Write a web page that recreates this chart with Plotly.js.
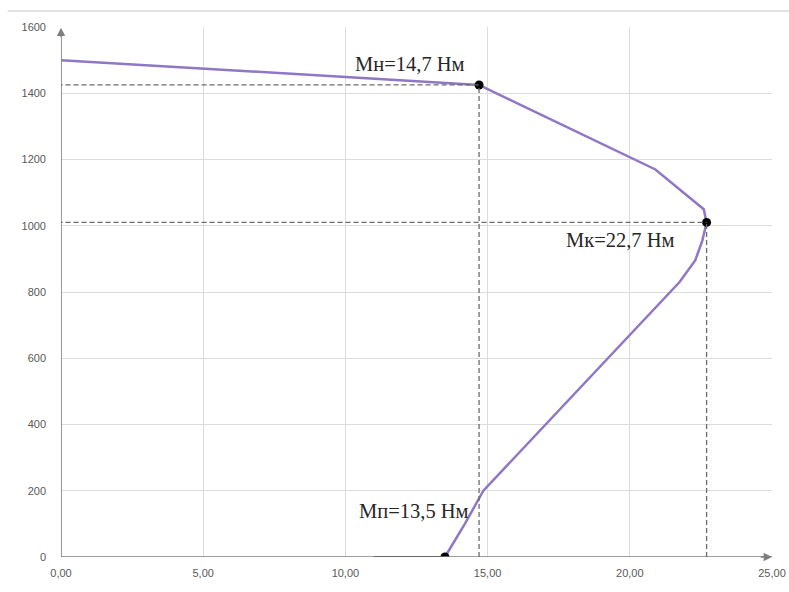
<!DOCTYPE html>
<html>
<head>
<meta charset="utf-8">
<script src="https://cdn.plot.ly/plotly-3.0.1.min.js"></script>
<style>
  html, body { margin: 0; padding: 0; background: #fff; }
  #chart { width: 789px; height: 592px; }
</style>
</head>
<body>
<div id="chart"></div>
<script>
// Mechanical characteristic of the motor: torque M (N·m) vs speed n (rpm)
const torque = [13.5, 14.2, 14.85, 18.25, 21.75, 22.3, 22.55, 22.7, 22.6, 20.9, 14.7, 0.0];
const speed  = [0,    100,  200,   510,   830,   895,  955,   1010, 1050, 1170, 1425, 1500];

// Key points: starting, critical and rated torque
const keyTorque = [13.5, 22.7, 14.7];
const keySpeed  = [0, 1010, 1425];
const keyLabels = ['Мп=13,5 Нм', 'Мк=22,7 Нм', 'Мн=14,7 Нм'];

const xTicks = [0, 5, 10, 15, 20, 25];
const xTickText = ['0,00', '5,00', '10,00', '15,00', '20,00', '25,00'];
const yTicks = [0, 200, 400, 600, 800, 1000, 1200, 1400, 1600];

const tickFont = { family: 'Liberation Sans Narrow, Liberation Sans, Arial, sans-serif', size: 11, color: '#595959' };
const labelFont = { family: 'Liberation Serif, Times New Roman, serif', size: 20.5, color: '#262626' };

const traces = [
  {
    x: [11, keyTorque[0]], y: [0, 0],
    mode: 'lines', line: { color: '#2b2b2b', width: 2 },
    hoverinfo: 'skip', showlegend: false
  },
  {
    x: torque, y: speed,
    mode: 'lines', line: { color: '#9077c6', width: 2.5 },
    showlegend: false
  },
  {
    x: keyTorque, y: keySpeed,
    mode: 'markers', marker: { color: '#000', size: 9 },
    showlegend: false
  }
];

const dash = { color: '#6b6b6b', width: 1.3, dash: '5px,3px' };
const shapes = [
  // thin rule across the top of the figure
  { type: 'line', xref: 'paper', yref: 'paper', x0: -0.075, x1: 1.03, y0: 1.03, y1: 1.03,
    line: { color: '#e3e3e3', width: 2 } },
  // x axis line
  { type: 'line', xref: 'x', yref: 'y', x0: 0, x1: 25, y0: 0, y1: 0, line: { color: '#7f7f7f', width: 1.6 } },
  // y axis line
  { type: 'line', xref: 'x', yref: 'y', x0: 0, x1: 0, y0: 0, y1: 1590, line: { color: '#7f7f7f', width: 1.6 } }
];
// projection lines from the rated and critical points
[[keyTorque[2], keySpeed[2]], [keyTorque[1], keySpeed[1]]].forEach(([mx, ny]) => {
  shapes.push({ type: 'line', xref: 'x', yref: 'y', x0: -0.4, x1: mx, y0: ny, y1: ny, line: dash });
  shapes.push({ type: 'line', xref: 'x', yref: 'y', x0: mx, x1: mx, y0: 0, y1: ny, line: dash });
});

const annotations = [
  // axis arrowheads
  { x: 25, y: 0, ax: 24.55, ay: 0, xref: 'x', yref: 'y', axref: 'x', ayref: 'y',
    showarrow: true, arrowhead: 2, arrowsize: 1.2, arrowwidth: 1.4, arrowcolor: '#7f7f7f', text: '' },
  { x: 0, y: 1598, ax: 0, ay: 1565, xref: 'x', yref: 'y', axref: 'x', ayref: 'y',
    showarrow: true, arrowhead: 2, arrowsize: 1.2, arrowwidth: 1.4, arrowcolor: '#7f7f7f', text: '' },
  // point labels
  { x: keyTorque[0], y: keySpeed[0], text: keyLabels[0], showarrow: false, font: labelFont,
    xanchor: 'right', yanchor: 'bottom', xshift: 26, yshift: 33 },
  { x: keyTorque[1], y: keySpeed[1], text: keyLabels[1], showarrow: false, font: labelFont,
    xanchor: 'right', yanchor: 'top', xshift: -30, yshift: -5 },
  { x: keyTorque[2], y: keySpeed[2], text: keyLabels[2], showarrow: false, font: labelFont,
    xanchor: 'center', yanchor: 'bottom', xshift: -69, yshift: 8 }
];

const layout = {
  width: 789, height: 592,
  margin: { l: 61, r: 17, t: 27, b: 35 },
  paper_bgcolor: '#fff', plot_bgcolor: '#fff',
  showlegend: false,
  xaxis: {
    range: [0, 25], tickvals: xTicks, ticktext: xTickText,
    showgrid: true, gridcolor: '#dcdcdc', gridwidth: 1,
    zeroline: false, showline: false, ticks: '',
    tickfont: tickFont, ticklabelstandoff: 8, fixedrange: true
  },
  yaxis: {
    range: [0, 1600], tickvals: yTicks,
    showgrid: true, gridcolor: '#dcdcdc', gridwidth: 1,
    zeroline: false, showline: false, ticks: '',
    tickfont: tickFont, ticklabelstandoff: 14, fixedrange: true
  },
  shapes: shapes,
  annotations: annotations
};

Plotly.newPlot('chart', traces, layout, { displayModeBar: false, staticPlot: true });
</script>
</body>
</html>
